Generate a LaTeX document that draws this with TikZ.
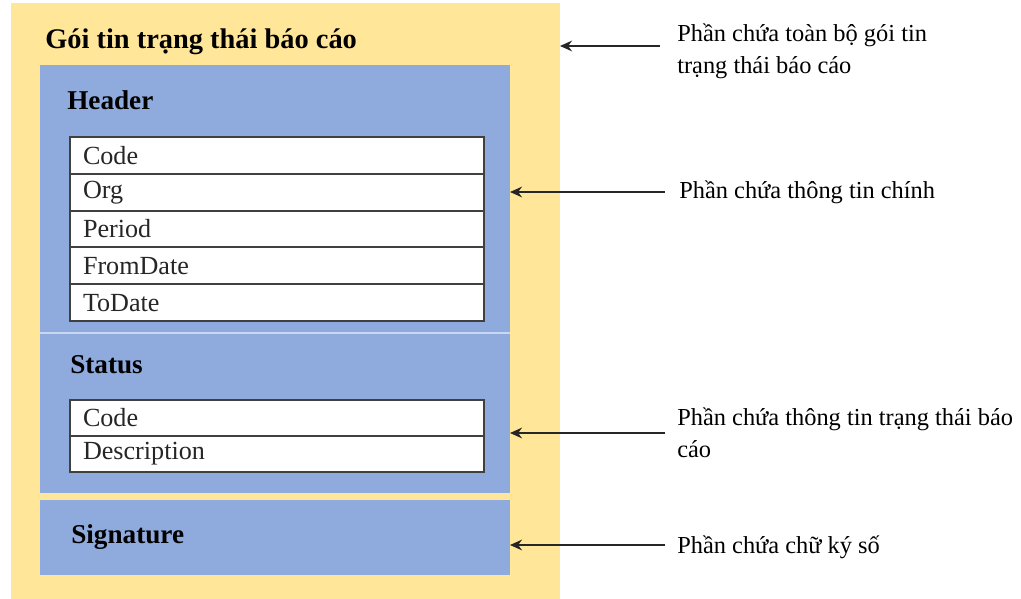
\documentclass[tikz,border=0pt]{standalone}
\usepackage{fontspec}
\setmainfont{Liberation Serif}
\usetikzlibrary{arrows.meta}
\definecolor{bgyellow}{HTML}{FFE699}
\definecolor{boxblue}{HTML}{8FAADC}
\definecolor{fieldgray}{HTML}{404040}
\definecolor{seplight}{HTML}{C9D7F0}
\definecolor{txtgray}{HTML}{262626}
\begin{document}
\begin{tikzpicture}[x=0.75pt,y=-0.75pt,
  panel/.style={fill=#1, draw=none, inner sep=0, outer sep=0, anchor=north west},
  fieldbox/.style={draw=fieldgray, fill=white, line width=1.4pt, anchor=north west,
     outer sep=0pt, minimum width=310.5pt, minimum height=#1, text width=291pt,
     inner xsep=9.75pt, inner ysep=0pt, align=left, text=txtgray,
     font=\fontsize{19.6}{22}\selectfont},
  fieldbox/.default=27.6pt,
  heading/.style={anchor=base west, inner sep=0, font=\fontsize{20.4}{24}\selectfont\bfseries},
  note/.style={anchor=west, inner sep=0, align=left, font=\fontsize{18.3}{24}\selectfont},
  arr/.style={-{Stealth[length=9pt,width=8pt]}, line width=2.1pt, black!85}]
\useasboundingbox (0,0) rectangle (1021,599);
% outer packet
\node[panel=bgyellow, minimum width=411.75pt, minimum height=447pt] (outer) at (11,3) {};
\node[anchor=base west, inner sep=0, font=\fontsize{21.3}{24}\selectfont\bfseries] (title) at (45,49) {Gói tin trạng thái báo cáo};
% main block (header + status)
\node[panel=boxblue, minimum width=352.5pt, minimum height=321pt] (mainblk) at (40,65) {};
\coordinate (sepy) at (0,333);
\draw[seplight, line width=1.2pt] (mainblk.west |- sepy) -- (mainblk.east |- sepy);
% signature block
\node[panel=boxblue, minimum width=352.5pt, minimum height=56.25pt] (sigblk) at (40,500) {};
% headings
\node[heading] (hdr) at (67,110) {Header};
\node[heading] (sts) at (70,373) {Status};
\node[heading] (sig) at (71,543) {Signature};
% header fields
\node[fieldbox] (f1) at (70,137) {Code};
\node[fieldbox] (f2) at (f1.south west) {Org};
\node[fieldbox] (f3) at (f2.south west) {Period};
\node[fieldbox] (f4) at (f3.south west) {FromDate};
\node[fieldbox] (f5) at (f4.south west) {ToDate};
% status fields
\node[fieldbox=27pt] (s1) at (70,400) {Code};
\node[fieldbox=27pt] (s2) at (s1.south west) {Description};
% notes
\node[note] (n1) at (677,51) {Phần chứa toàn bộ gói tin\\trạng thái báo cáo};
\node[note] (n2) at (679,192) {Phần chứa thông tin chính};
\node[note] (n3) at (677,433) {Phần chứa thông tin trạng thái báo\\cáo};
\node[note] (n4) at (677,547) {Phần chứa chữ ký số};
% arrows
\coordinate (a1) at (660,46);
\coordinate (a2) at (665,192);
\coordinate (a3) at (665,433);
\coordinate (a4) at (665,545);
\draw[arr] (a1) -- (a1 -| outer.east);
\draw[arr] (a2) -- (a2 -| mainblk.east);
\draw[arr] (a3) -- (a3 -| mainblk.east);
\draw[arr] (a4) -- (a4 -| sigblk.east);
\end{tikzpicture}
\end{document}
